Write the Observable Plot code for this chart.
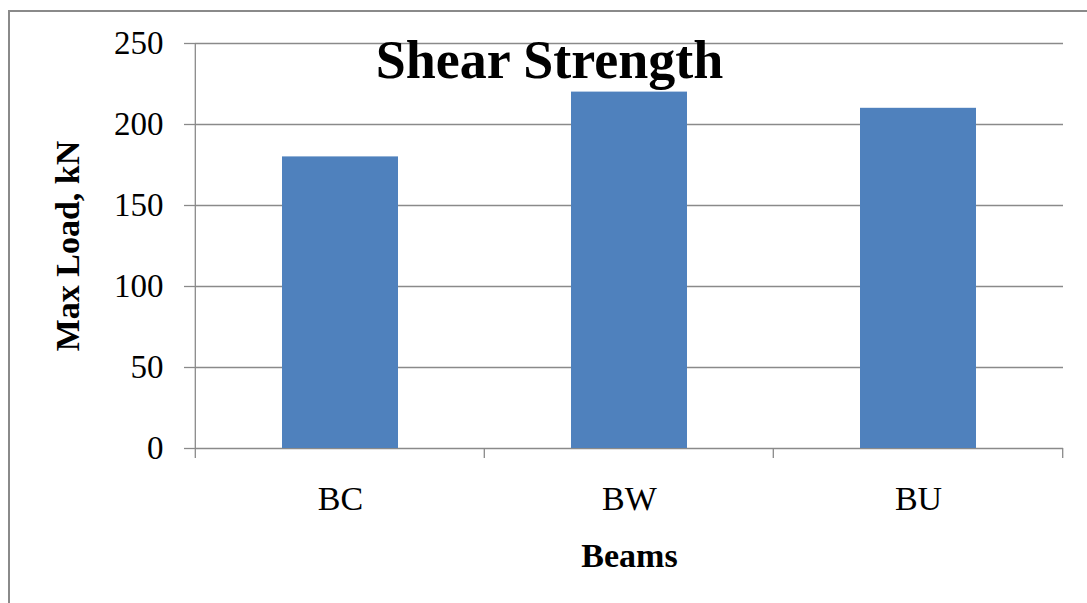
<!DOCTYPE html>
<html>
<head>
<meta charset="utf-8">
<script src="https://cdn.jsdelivr.net/npm/d3@7"></script>
<script src="https://cdn.jsdelivr.net/npm/@observablehq/plot@0.6"></script>
<style>
html, body { margin: 0; padding: 0; background: #fff; }
#wrap { position: relative; width: 1087px; height: 603px; overflow: hidden; background: #fff; }
#border { position: absolute; left: 8px; top: 10px; width: 1200px; height: 700px; border-left: 2px solid #8a8a8a; border-top: 2px solid #8a8a8a; }
#chart { position: absolute; left: 0; top: 0; }
#title { position: absolute; left: 0; width: 1099px; top: 33px; text-align: center; font: bold 54px/54px "Liberation Serif", "Times New Roman", serif; color: #000; white-space: nowrap; }
</style>
</head>
<body>
<div id="wrap">
  <div id="border"></div>
  <div id="chart"></div>
  <div id="title"></div>
</div>
<script>
const title = "Shear Strength";
const xTitle = "Beams";
const yTitle = "Max Load, kN";
const categories = ["BC", "BW", "BU"];
const values = [180, 220, 210];
const yTicks = [0, 50, 100, 150, 200, 250];

const data = categories.map((c, i) => ({beam: c, load: values[i]}));
const serif = '"Liberation Serif", "Times New Roman", serif';
const gray = "#8a8a8a";

document.getElementById("title").textContent = title;

const plot = Plot.plot({
  width: 1087,
  height: 603,
  marginLeft: 195,
  marginRight: 24,
  marginTop: 43,
  marginBottom: 155,
  style: {fontFamily: serif, background: "transparent", color: "#000", overflow: "visible"},
  x: {domain: categories, paddingInner: 0.6, paddingOuter: 0.3, label: null},
  y: {domain: [0, 250], label: null},
  marks: [
    Plot.ruleY(yTicks, {stroke: gray, strokeWidth: 1.3}),
    Plot.barY(data, {x: "beam", y: "load", fill: "#4f81bd"}),
    Plot.axisY(yTicks, {tickSize: 11, tickPadding: 21, fontSize: 33, stroke: gray, strokeWidth: 1.3, tickFormat: d => String(d), label: null}),
    Plot.axisX({tickSize: 0, tickPadding: 37, fontSize: 34, label: null}),
    Plot.text([yTitle], {frameAnchor: "left", rotate: -90, dx: -127, textAnchor: "middle", lineAnchor: "middle", text: d => d, fontSize: 34, fontWeight: "bold", fill: "#000"}),
    Plot.text([xTitle], {frameAnchor: "bottom", dy: 108, textAnchor: "middle", lineAnchor: "middle", text: d => d, fontSize: 34, fontWeight: "bold", fill: "#000"})
  ]
});
document.getElementById("chart").appendChild(plot);

// category boundary ticks and the value axis line, placed through Plot's own scales
const xs = plot.scale("x");
const ys = plot.scale("y");
const step = xs.step;
const edges = categories.map(c => xs.apply(c) - step * 0.3);
edges.push(xs.apply(categories[categories.length - 1]) + xs.bandwidth + step * 0.3);
const y0 = ys.apply(0), yTop = ys.apply(250);
const svg = d3.select(plot);
const g = svg.append("g").attr("stroke", gray).attr("stroke-width", 1.3);
g.selectAll("line.edge").data(edges).join("line")
  .attr("class", "edge")
  .attr("x1", d => d).attr("x2", d => d)
  .attr("y1", y0).attr("y2", y0 + 10);
g.append("line").attr("x1", edges[0]).attr("x2", edges[0]).attr("y1", yTop).attr("y2", y0);
</script>
</body>
</html>
